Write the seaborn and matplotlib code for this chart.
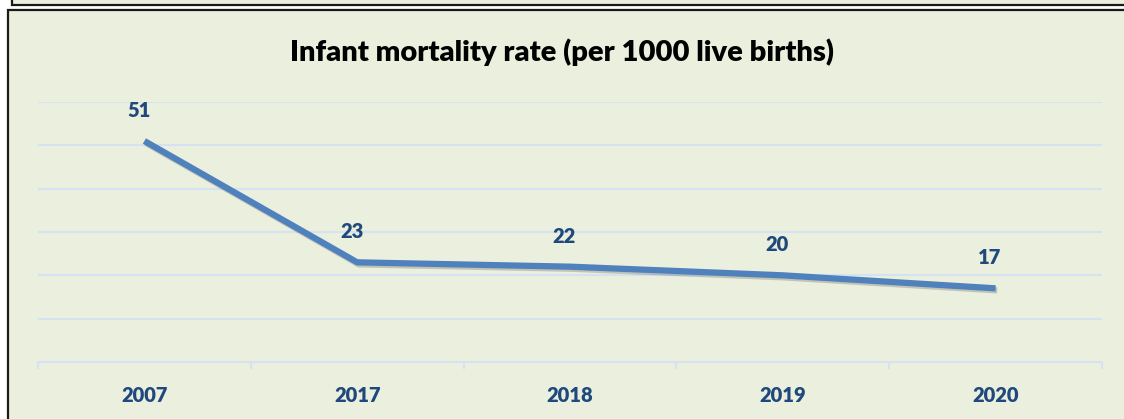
import seaborn as sns
import matplotlib.pyplot as plt
import matplotlib.patheffects as pe
from matplotlib.patches import Rectangle
import pandas as pd

years = ["2007", "2017", "2018", "2019", "2020"]
rates = [51, 23, 22, 20, 17]
title = "Infant mortality rate (per 1000 live births)"

bg = "#EBEFDE"
grid_col = "#D5E2F2"
line_col = "#4F81BD"
label_col = "#1F497D"

sns.set_style("white")
plt.rcParams["font.family"] = ["Lato", "DejaVu Sans"]

W, H = 1124, 419
fig = plt.figure(figsize=(W / 100, H / 100), dpi=100)
fig.patch.set_facecolor("white")

# boxes (pixel coordinates -> figure fraction)
def box(x0, y0, x1, y1):
    return Rectangle((x0 / W, 1 - y1 / H), (x1 - x0) / W, (y1 - y0) / H,
                     transform=fig.transFigure, facecolor=bg,
                     edgecolor="#1a1a1a", linewidth=1.6, zorder=-5)

fig.patches.append(box(12, -20, 1140, 5))
fig.patches.append(box(8, 10, 1140, 440))

ax = fig.add_axes([38 / W, 1 - 362 / H, (1102 - 38) / W, (362 - 102) / H])
ax.set_facecolor("none")

df = pd.DataFrame({"year": years, "rate": rates})
sns.lineplot(data=df, x="year", y="rate", ax=ax, color=line_col, linewidth=4.5,
             sort=False, zorder=3,
             path_effects=[pe.SimpleLineShadow(offset=(1.2, -1.5), alpha=0.18),
                           pe.Normal()])
ax.lines[0].set_solid_capstyle("butt")

for i, v in enumerate(rates):
    ax.annotate(str(v), (i, v), xytext=(-4, 22), textcoords="offset points",
                ha="center", va="center", fontsize=14.5, fontweight="heavy",
                color=label_col)

ax.set_xlim(-0.5, len(years) - 0.5)
ax.set_ylim(0, 60)
ax.set_yticks(range(10, 61, 10))
ax.yaxis.grid(True, color=grid_col, linewidth=1.5)
ax.tick_params(axis="y", left=False, labelleft=False)
ax.set_xticks(range(len(years)))
ax.set_xticklabels(years, fontsize=14.5, fontweight="heavy", color=label_col)
ax.tick_params(axis="x", which="major", bottom=False, length=0, pad=17)
ax.set_xticks([i - 0.5 for i in range(len(years) + 1)], minor=True)
ax.tick_params(axis="x", which="minor", bottom=True, length=5, width=1.5,
               color=grid_col)
ax.set_xlabel("")
ax.set_ylabel("")
for s in ["top", "left", "right"]:
    ax.spines[s].set_visible(False)
ax.spines["bottom"].set_color(grid_col)
ax.spines["bottom"].set_linewidth(1.5)

fig.text(0.5 * (292 + 833) / W, 1 - 52 / H, title, ha="center", va="center",
         fontsize=21, fontweight="heavy", color="black")

fig.savefig("out.png", dpi=100, facecolor=fig.get_facecolor())
